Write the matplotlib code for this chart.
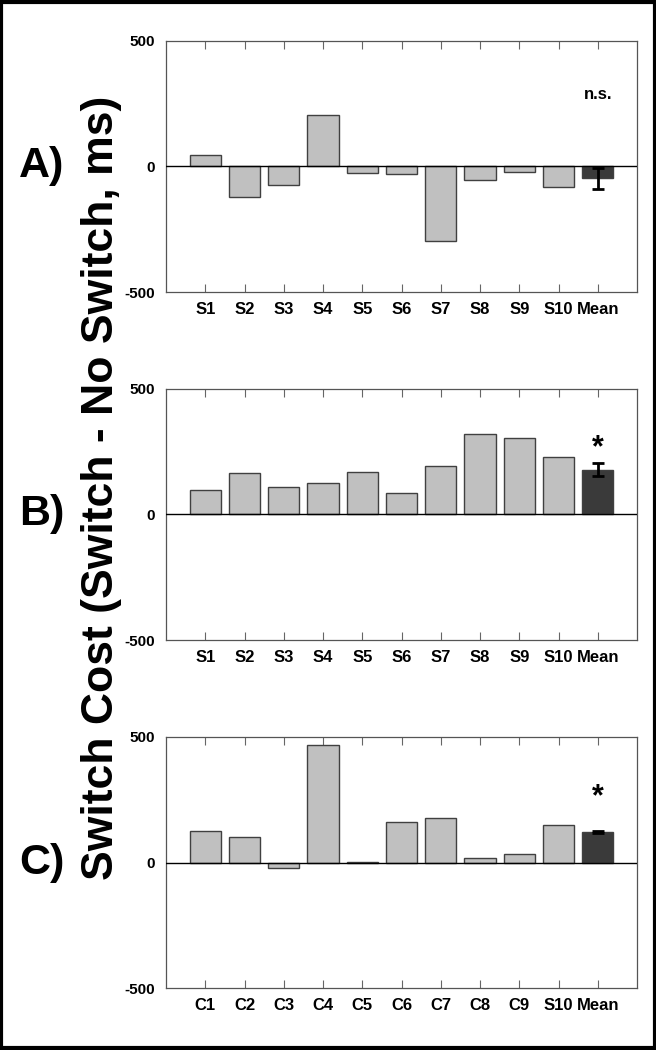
import numpy as np
import matplotlib
matplotlib.use('Agg')
import matplotlib.pyplot as plt
from matplotlib.patches import Rectangle

plt.rcParams['font.family'] = ['Liberation Sans', 'DejaVu Sans']
plt.rcParams['font.weight'] = 'bold'

# switch cost per participant (ms), last value is the group mean
labels_a = ['S1', 'S2', 'S3', 'S4', 'S5', 'S6', 'S7', 'S8', 'S9', 'S10', 'Mean']
cost_a = [44, -122, -74, 206, -25, -32, -299, -56, -24, -82, -47]
err_a = 42
note_a = 'n.s.'

labels_b = ['S1', 'S2', 'S3', 'S4', 'S5', 'S6', 'S7', 'S8', 'S9', 'S10', 'Mean']
cost_b = [95, 166, 110, 126, 170, 86, 194, 320, 304, 228, 178]
err_b = 27
note_b = '*'

labels_c = ['C1', 'C2', 'C3', 'C4', 'C5', 'C6', 'C7', 'C8', 'C9', 'S10', 'Mean']
cost_c = [125, 101, -23, 469, 4, 161, 176, 17, 35, 149, 121]
err_c = 5
note_c = '*'

panels = [('A)', labels_a, cost_a, err_a, note_a),
          ('B)', labels_b, cost_b, err_b, note_b),
          ('C)', labels_c, cost_c, err_c, note_c)]

fig = plt.figure(figsize=(6.56, 10.5), dpi=100)
W, H = 656, 1050
left, right = 166, 637
tops = [40.7, 388.7, 737]
ax_h = 251.3

for (tag, labels, cost, err, note), top in zip(panels, tops):
    ax = fig.add_axes([left / W, 1 - (top + ax_h) / H, (right - left) / W, ax_h / H])
    x = np.arange(1, len(cost) + 1)
    colors = ['#c0c0c0'] * (len(cost) - 1) + ['#3a3a3a']
    ax.bar(x, cost, width=0.8, color=colors, edgecolor='#404040', linewidth=1.0, zorder=2)
    ax.errorbar(x[-1], cost[-1], yerr=err, fmt='none', ecolor='black',
                elinewidth=2, capsize=4.5, capthick=2, zorder=3)
    ax.axhline(0, color='black', linewidth=1.0, zorder=4)
    ax.set_xlim(0, 12)
    ax.set_ylim(-500, 500)
    ax.set_yticks([-500, 0, 500])
    ax.set_yticklabels(['-500', '0', '500'], fontsize=11, fontweight='bold')
    ax.tick_params(axis='y', length=0, pad=8)
    ax.set_xticks(x)
    ax.set_xticklabels(labels, fontsize=12, fontweight='bold')
    ax.tick_params(axis='x', direction='in', length=6, width=0.8, color='#666666',
                   top=True, bottom=True, pad=7)
    for s in ax.spines.values():
        s.set_color('#555555')
        s.set_linewidth(0.9)
    if note == '*':
        ax.text(x[-1], 262, note, ha='center', va='center', fontsize=22, fontweight='bold')
    else:
        ax.text(x[-1], 285, note, ha='center', va='center', fontsize=12, fontweight='bold')
    fig.text(42 / W, 1 - (top + ax_h / 2) / H, tag, ha='center', va='center',
             fontsize=31, fontweight='bold')

fig.text(102 / W, 1 - 488 / H, 'Switch Cost (Switch - No Switch, ms)', rotation=90,
         ha='center', va='center', fontsize=32, fontweight='bold')

fig.patches.append(Rectangle((0.002, 0.0015), 0.996, 0.997, transform=fig.transFigure,
                             fill=False, edgecolor='black', linewidth=3))

fig.savefig('out.png', dpi=100)
